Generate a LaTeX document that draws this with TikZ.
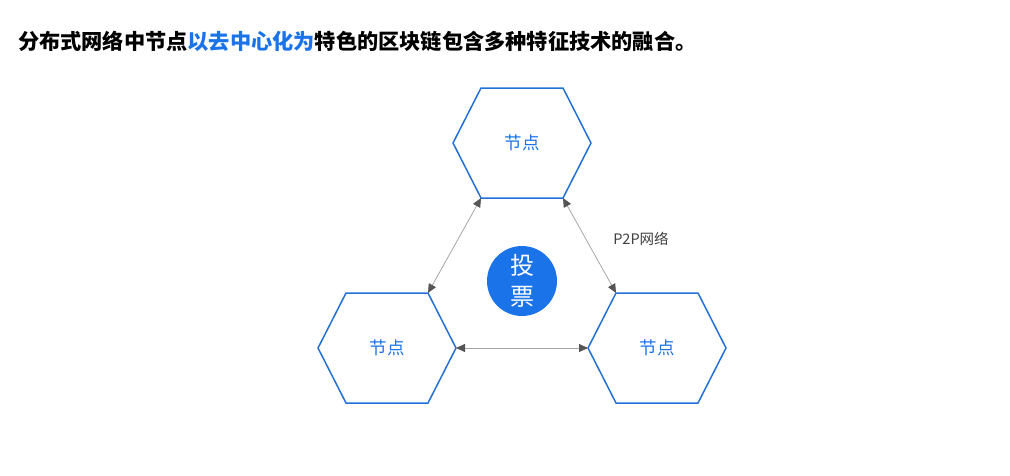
\documentclass[tikz,border=0pt]{standalone}
\usepackage{fontspec}
\usepackage{tikz}
\usetikzlibrary{arrows.meta}
\newfontfamily\cjk{Noto Sans CJK SC}
\definecolor{chainblue}{HTML}{1A73E8}
\definecolor{edgeblue}{HTML}{2270D8}
\definecolor{tipgray}{HTML}{555555}

% hexagon with named corners: #1 name, #2 centre
\newcommand{\hexa}[2]{
	\begin{scope}[shift={#2}]
		\coordinate (#1-l) at (-69, 0);
		\coordinate (#1-tl) at (-41, -55);
		\coordinate (#1-tr) at (41, -55);
		\coordinate (#1-r) at (69, 0);
		\coordinate (#1-br) at (41, 55);
		\coordinate (#1-bl) at (-41, 55);
		\draw[hexline] (#1-l) -- (#1-tl) -- (#1-tr) -- (#1-r) -- (#1-br) -- (#1-bl) -- cycle;
		\node[hextext] (#1) at (0, 0) {节点};
	\end{scope}
}

\begin{document}
\begin{tikzpicture}[x=1pt, y=-1pt,
	hexline/.style={edgeblue, line width=1.5pt, line join=miter},
	hextext/.style={text=chainblue, font=\cjk\fontsize{17.5}{20}\selectfont},
	link/.style={gray!70, line width=0.8pt,
		{Triangle[length=9pt, width=8pt, color=tipgray]}-{Triangle[length=9pt, width=8pt, color=tipgray]}}]
		\useasboundingbox (0, 0) rectangle (1010, 475);

		% title
		\node[anchor=west, inner sep=0pt, font=\cjk\bfseries\fontsize{21.2}{24}\selectfont] (title) at (18, 41)
			{分布式网络中节点{\color{chainblue}以去中心化为}特色的区块链包含多种特征技术的融合。};

		% nodes
		\hexa{top}{(522, 143)}
		\hexa{left}{(387, 348)}
		\hexa{right}{(657, 348)}

		% voting in the middle
		\node[circle, fill=chainblue, minimum size=70pt, inner sep=0pt, text=white,
			align=center, font=\cjk\fontsize{24}{31}\selectfont] (vote) at (522, 281) {投\\票};

		% P2P links
		\draw[link] (top-bl) -- (left-tr);
		\draw[link] (top-br) -- (right-tl);
		\draw[link] (left-r) -- (right-l);
		\node[text=black!75, font=\cjk\fontsize{14.5}{16}\selectfont] (p2p) at (641, 239) {P2P网络};
	\end{tikzpicture}
\end{document}
